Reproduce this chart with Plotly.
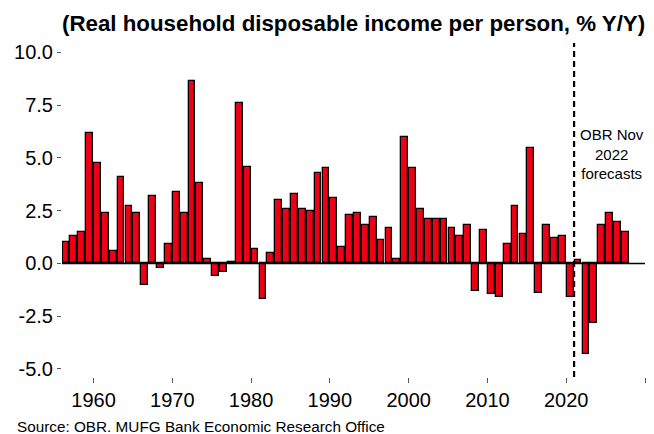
import plotly.graph_objects as go

years = list(range(1956, 2028))
values = [1.0, 1.3, 1.5, 6.2, 4.75, 2.4, 0.6, 4.1, 2.7, 2.4,
          -1.0, 3.2, -0.2, 0.9, 3.4, 2.4, 8.65, 3.8, 0.2, -0.6,
          -0.4, 0.05, 7.6, 4.55, 0.7, -1.7, 0.5, 3.0, 2.6, 3.3,
          2.6, 2.5, 4.3, 4.5, 3.1, 0.8, 2.3, 2.4, 1.8, 2.2,
          1.1, 1.7, 0.2, 6.0, 4.5, 2.6, 2.1, 2.1, 2.1, 1.7,
          1.3, 1.8, -1.3, 1.6, -1.45, -1.6, 0.9, 2.7, 1.4, 5.45,
          -1.4, 1.8, 1.2, 1.3, -1.6, 0.15, -4.3, -2.8, 1.8, 2.4,
          1.95, 1.5]
x_ticks = [1960, 1970, 1980, 1990, 2000, 2010, 2020, 2030]
x_tick_labels = ["1960", "1970", "1980", "1990", "2000", "2010", "2020", ""]
y_ticks = [-5.0, -2.5, 0.0, 2.5, 5.0, 7.5, 10.0]
y_tick_labels = ["-5.0", "-2.5", "0.0", "2.5", "5.0", "7.5", "10.0"]
forecast_start = 2021
title_text = "(Real household disposable income per person, % Y/Y)"
source_text = "Source: OBR. MUFG Bank Economic Research Office"
note_text = "OBR Nov<br>2022<br>forecasts"

FONT = "Liberation Sans, Arial, sans-serif"

fig = go.Figure()
fig.add_trace(go.Bar(
    x=[y + 0.5 for y in years],
    y=values,
    width=0.86,
    marker=dict(color="#EC0016", line=dict(color="black", width=1.3)),
    showlegend=False,
))

fig.add_hline(y=0, line=dict(color="black", width=1.5))
fig.add_shape(type="line", x0=forecast_start, x1=forecast_start, y0=0, y1=1,
              xref="x", yref="paper",
              line=dict(color="black", width=2.2, dash="6px,4px"))

fig.add_annotation(x=forecast_start + 4.8, y=5.2, xref="x", yref="y",
                   text=note_text, showarrow=False,
                   font=dict(family=FONT, size=15, color="black"),
                   align="center")

fig.add_annotation(x=0.5, y=1, xref="paper", yref="paper",
                   text="<b>" + title_text + "</b>", showarrow=False,
                   yanchor="middle", yshift=20,
                   font=dict(family=FONT, size=22.3, color="black"))

fig.add_annotation(x=0, y=0, xref="paper", yref="paper",
                   text=source_text, showarrow=False,
                   xanchor="left", yanchor="middle",
                   xshift=-47, yshift=-49,
                   font=dict(family=FONT, size=15.3, color="black"))

fig.update_layout(
    width=646, height=426,
    margin=dict(l=54, r=9, t=35, b=57),
    paper_bgcolor="white", plot_bgcolor="white",
    bargap=0,
    font=dict(family=FONT, color="black"),
)
fig.update_xaxes(range=[1956, 2030], tickvals=x_ticks, ticktext=x_tick_labels,
                 ticks="outside", ticklen=5, tickcolor="#555555", tickwidth=1,
                 showgrid=False, zeroline=False, showline=False, automargin=False,
                 tickfont=dict(family=FONT, size=20, color="black"))
fig.update_yaxes(range=[-5.38, 10.44], tickvals=y_ticks, ticktext=y_tick_labels,
                 ticks="outside", ticklen=4, tickcolor="#555555", tickwidth=1,
                 showgrid=False, zeroline=False, showline=False, automargin=False,
                 tickfont=dict(family=FONT, size=20, color="black"))

fig.write_html("out.html")
